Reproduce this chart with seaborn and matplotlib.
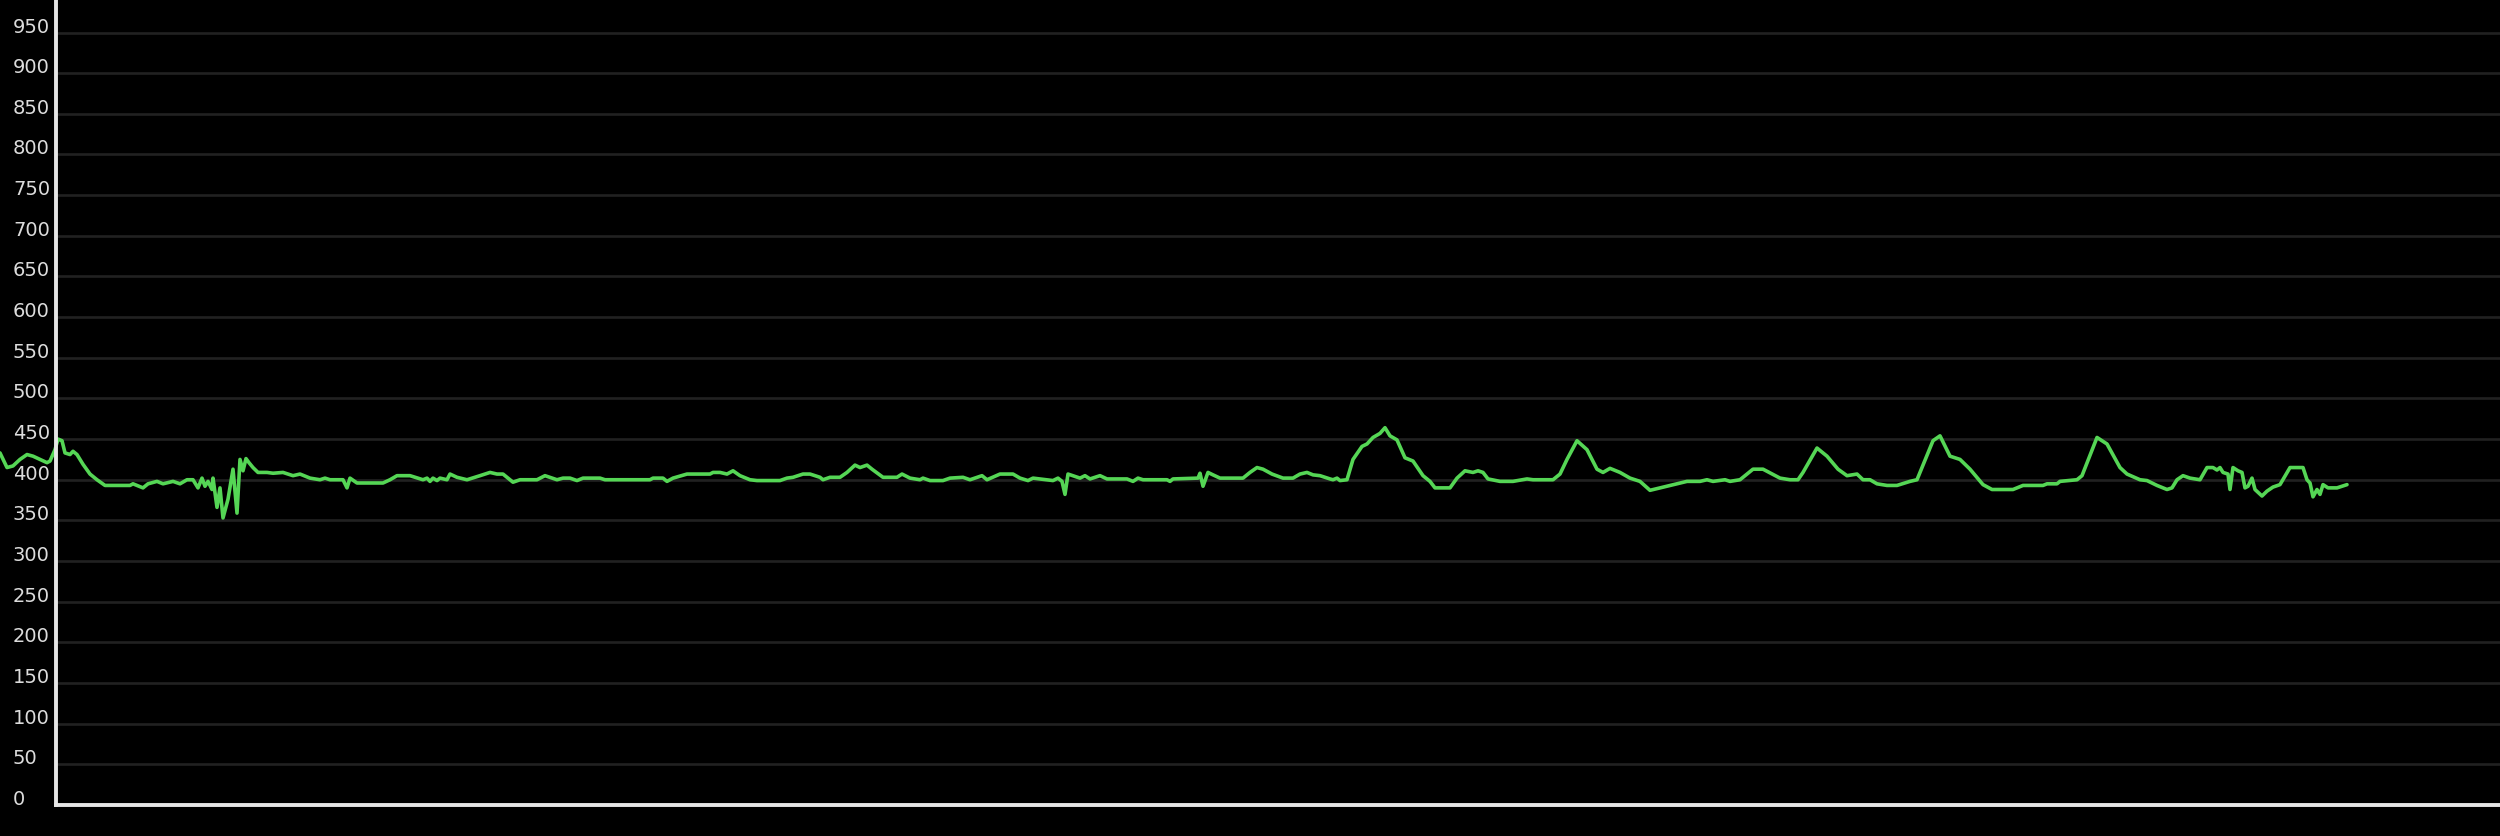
import matplotlib
matplotlib.use("Agg")
import matplotlib.pyplot as plt
import seaborn as sns
import pandas as pd

# x positions (sample time) and values
t = [0, 7, 13, 20, 27, 33, 40, 47, 50, 55, 58, 62, 65, 70, 73, 77, 83, 90, 97, 105,
     130, 133, 143, 148, 157, 163, 173, 180, 187, 193, 198, 202, 205, 208, 212, 213,
     217, 220, 223, 228, 233, 237, 240, 243, 246, 249, 253, 258, 267, 273, 283, 293,
     300, 310, 320, 325, 330, 343, 347, 350, 357, 383, 390, 397, 410, 423, 427, 430,
     433, 437, 440, 447, 450, 457, 467, 480, 490, 497, 503, 508, 513, 520, 537, 545,
     557, 563, 570, 577, 583, 600, 605, 650, 653, 663, 667, 673, 687, 710, 713, 720,
     727, 733, 740, 750, 757, 780, 787, 793, 803, 810, 820, 823, 830, 840, 847, 855,
     860, 867, 872, 883, 897, 902, 910, 920, 923, 930, 943, 950, 963, 970, 982, 987,
     1000, 1013, 1020, 1028, 1033, 1053, 1058, 1062, 1065, 1068, 1080, 1085, 1090,
     1100, 1107, 1127, 1133, 1138, 1143, 1167, 1170, 1173, 1198, 1200, 1203, 1208,
     1213, 1220, 1243, 1250, 1257, 1263, 1272, 1283, 1293, 1300, 1307, 1313, 1320,
     1330, 1333, 1337, 1340, 1347, 1353, 1362, 1367, 1373, 1380, 1385, 1390, 1397,
     1405, 1413, 1423, 1430, 1435, 1450, 1457, 1465, 1473, 1478, 1483, 1488, 1500,
     1513, 1527, 1533, 1553, 1560, 1567, 1577, 1587, 1597, 1603, 1610, 1620, 1630,
     1640, 1650, 1660, 1673, 1687, 1700, 1707, 1713, 1725, 1730, 1740, 1753, 1763,
     1780, 1790, 1798, 1803, 1817, 1827, 1838, 1847, 1857, 1863, 1870, 1877, 1887,
     1897, 1910, 1917, 1933, 1940, 1950, 1960, 1970, 1983, 1992, 2013, 2023, 2043,
     2047, 2057, 2060, 2077, 2082, 2097, 2107, 2120, 2127, 2140, 2147, 2157, 2167,
     2172, 2177, 2183, 2190, 2200, 2207, 2213, 2217, 2220, 2223, 2228, 2230, 2233,
     2238, 2242, 2245, 2248, 2252, 2255, 2262, 2267, 2273, 2280, 2290, 2303, 2307,
     2310, 2313, 2317, 2320, 2323, 2328, 2337, 2347]

values = [433, 415, 417, 425, 431, 429, 425, 421, 423, 437, 450, 448, 433, 431, 435, 431, 419, 407, 400, 393,
          393, 395, 390, 395, 398, 395, 398, 395, 400, 400, 390, 402, 392, 398, 388, 402,
          366, 390, 353, 376, 413, 359, 425, 411, 426, 421, 415, 409, 409, 408, 409, 405,
          407, 402, 400, 402, 400, 400, 390, 402, 396, 396, 400, 405, 405, 400, 402, 398,
          402, 399, 402, 400, 407, 403, 400, 405, 409, 407, 407, 402, 397, 400, 400, 405,
          400, 402, 402, 399, 402, 402, 400, 400, 402, 402, 398, 402, 407, 407, 409, 409,
          407, 411, 405, 400, 399, 399, 402, 403, 407, 407, 403, 400, 403, 403, 409, 418,
          415, 418, 413, 403, 403, 407, 402, 400, 402, 399, 399, 402, 403, 400, 405, 400,
          407, 407, 402, 399, 402, 399, 402, 398, 382, 407, 402, 405, 401,
          405, 401, 401, 398, 402, 400, 400, 398, 401, 402, 408, 392, 409,
          406, 402, 402, 409, 415, 413, 407, 402, 402, 407, 409, 406, 405,
          401, 400, 402, 399, 400, 425, 441, 444, 452, 457, 464, 454, 449,
          427, 423, 405, 398, 390, 390, 402, 411, 409, 411, 409, 401, 398,
          398, 401, 400, 400, 407, 425, 448, 437, 413, 409, 414, 409, 402,
          398, 387, 390, 394, 398, 398, 400, 398, 400, 398, 400, 413, 413,
          402, 400, 400, 409, 439, 429, 413, 405, 407, 400, 400, 395, 393,
          393, 398, 400, 448, 454, 429, 425, 413, 394, 388, 388, 393, 393,
          395, 395, 398, 400, 405, 452, 444, 415, 407, 400, 399, 393, 388,
          390, 400, 405, 402, 400, 415, 415, 412, 415, 409, 407, 388, 415,
          411, 409, 390, 392, 402, 388, 380, 386, 391, 394, 415, 415, 400,
          396, 379, 388, 382, 394, 390, 390, 394]

y_ticks = list(range(0, 1000, 50))
y_labels = [str(v) for v in y_ticks]

df = pd.DataFrame({"t": t, "value": values})

sns.set_theme(style="dark")
plt.rcParams["font.family"] = ["DejaVu Sans"]

fig = plt.figure(figsize=(25, 8.36), dpi=100, facecolor="black")
ax = fig.add_axes([56 / 2500, 31 / 836, 1 - 56 / 2500, 805 / 836])
ax.set_facecolor("black")

ax.set_ylim(0, 990)
ax.set_xlim(56, 2500)
ax.set_yticks(y_ticks)
ax.set_yticklabels(y_labels)
ax.set_xticks([])

ax.grid(axis="y", color="#212121", linewidth=1.9)
ax.grid(axis="x", visible=False)
ax.set_axisbelow(True)

sns.lineplot(data=df, x="t", y="value", ax=ax, color="#55d655", linewidth=2.6,
             estimator=None, sort=False, clip_on=False)

ax.set_xlabel("")
ax.set_ylabel("")

for side in ["top", "right"]:
    ax.spines[side].set_visible(False)
for side in ["left", "bottom"]:
    ax.spines[side].set_visible(True)
    ax.spines[side].set_color("#e6e6e6")
    ax.spines[side].set_linewidth(2.8)

ax.tick_params(axis="y", length=0, pad=31, labelsize=14, labelcolor="#dcdcdc")
for lab in ax.get_yticklabels():
    lab.set_horizontalalignment("left")
    lab.set_verticalalignment("baseline")

fig.savefig("out.png", dpi=100, facecolor="black")
